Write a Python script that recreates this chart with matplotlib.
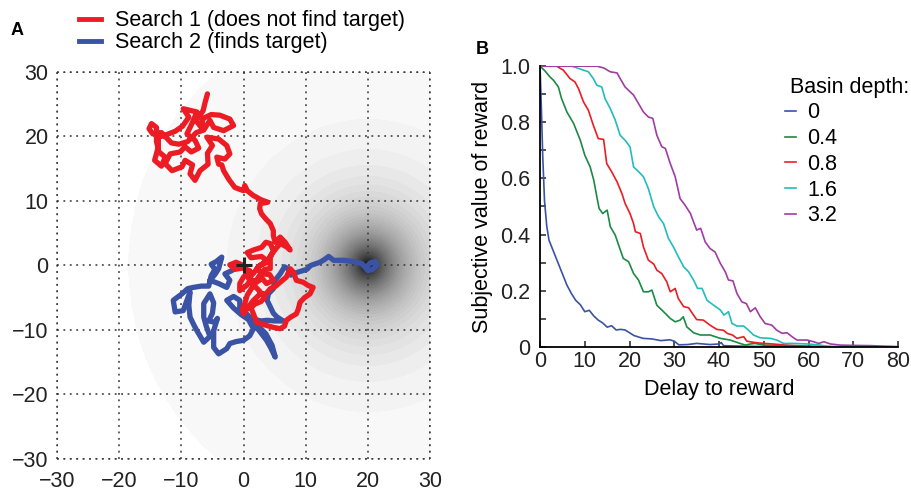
import numpy as np
import matplotlib
matplotlib.use("Agg")
import matplotlib.pyplot as plt
from matplotlib.lines import Line2D

plt.rcParams['font.family'] = ['Liberation Sans', 'DejaVu Sans']
plt.rcParams['font.size'] = 15.5

RED = '#ed1c24'
BLUE = '#3a53a4'

# ---- panel A data: traced search paths (x, y) ----
target = (20, 0)
basin_radius = 38.5

red_path = [
    (0, 0), (-1.2, 0.5), (-2.2, 0.1), (-1.4, -0.6), (-0.2, -0.4), (1, -0.8), (0, -1.8), (-0.6, -2.8),
    (-0.6, -3.9), (0.5, -3.1), (1.2, -2.2), (2.1, -2.6), (3, -2), (3.7, -2.8), (4.8, -2.3), (4.2, -1.4),
    (2.9, -1.3), (2.2, -0.4), (3.7, 0.8), (2.9, 1.4), (2.1, 1.3), (1.2, 1.2), (0.6, 2), (1.6, 2.4),
    (2.9, 2.8), (3.6, 3.6), (4.3, 3.4), (4.8, 2.3), (4.3, 1.2), (4.3, -0.5), (3.4, -0.6), (2.4, -1.8),
    (1.4, -3.4), (0.6, -4.6), (0.2, -5.9), (-0.2, -6.8), (0, -7.5), (0.8, -6.4), (1.6, -5.4), (2.7, -4.4),
    (3.6, -4.4), (4.3, -3.6), (5.2, -3.2), (5.9, -2.6), (6.9, -1.8), (7.5, -0.5), (8, -1.0), (8.5, -2.3),
    (9.6, -2.6), (10.4, -3.1), (11.2, -3.4), (10.7, -4.4), (9.8, -5), (9.1, -5.7), (8.8, -6.8), (8.5, -7.5),
    (7.6, -8), (6.9, -8.5), (6.6, -9.4), (5.9, -9.8), (4.8, -9.6), (3.7, -9.3), (2.1, -8.8), (1.6, -7.5),
    (1.2, -6.6), (1.8, -6), (2.8, -5.6), (3.4, -5), (2.6, -4.0), (1.6, -3.0), (0.8, -2.0), (1.6, -1.2),
    (2.6, 0), (3.6, 0.4), (4.4, 1.6), (5.2, 2.6), (5.9, 3.4), (6.9, 2.9), (7.5, 2.4), (6.7, 3.6),
    (5.9, 4.4), (5.1, 3.6), (4.8, 4.6), (4.8, 5.4), (4.3, 6.5), (3.6, 7.2), (2.9, 8.0), (2.6, 8.8),
    (2.7, 9.6), (3.9, 9.8), (2.8, 10.2), (1.5, 10.9), (0.6, 11.6), (0.2, 12.4), (0, 11.6), (-0.6, 11.8),
    (-1.4, 12.1), (-2.4, 13.4), (-3.2, 14.7), (-3.5, 15.6), (-4, 15.7), (-4.3, 16.8), (-3, 16.5), (-2.2, 17.3),
    (-2.7, 18.6), (-4.0, 19.6), (-5.9, 19.9), (-5.0, 18.6), (-5.8, 17.4), (-5.7, 15.7), (-7, 14.7), (-7.8, 13.2),
    (-8.6, 14.2), (-8.2, 15.6), (-9.4, 16.3), (-9.9, 15.3), (-11.5, 14.7), (-12.6, 15.8), (-11.8, 17.3), (-10.2, 17.6),
    (-9.4, 18.4), (-8.4, 17.6), (-7.2, 18.2), (-7.8, 19.4), (-9.1, 20.4), (-8.3, 22.0), (-7.5, 23.8), (-9.7, 24.3),
    (-8.8, 23.0), (-9.8, 21.6), (-11, 20.8), (-12.6, 20.2), (-13.7, 19.9), (-13.7, 18.4), (-14.3, 16.3), (-13.2, 15.4),
    (-12.6, 16.8), (-13.6, 17.6), (-14, 19.2), (-14, 21.4), (-14.8, 22.0), (-15.2, 21.2), (-14.6, 20.4), (-13.2, 20.6),
    (-11.6, 19.0), (-10.4, 18.8), (-9, 19.2), (-7.6, 20.6), (-6.4, 21), (-5.4, 22.5), (-4.8, 21.4), (-3.2, 20.9),
    (-1.6, 21.7), (-2.2, 22.7), (-3.8, 23.3), (-5.2, 23.4), (-6.5, 22.8), (-6.8, 21.4), (-7.6, 22.4), (-6.5, 24.0),
    (-6.2, 25.2), (-5.8, 26.6),
]

blue_path = [
    (0, 0), (-1.1, -0.3), (-1.9, -0.8), (-3.0, -1.3), (-2.2, -2.3), (-2.7, -3.4), (-4.0, -2.8), (-5.4, -2.3),
    (-4.6, -1.4), (-4.0, -0.5), (-3.5, 1.3), (-4.4, 0.6), (-5.2, 0.2), (-4.6, -0.6), (-5.2, -1.6), (-5.6, -3.2),
    (-6.8, -3.2), (-8.1, -3.4), (-9.0, -3.6), (-9.9, -4.4), (-11.3, -5.4), (-11.0, -7.2), (-9.7, -7.0), (-9.1, -5.4),
    (-8.6, -4.1), (-8.8, -6.2), (-8.6, -8), (-8.0, -9.2), (-7.5, -10.1), (-6.4, -11.9), (-5.4, -11), (-6.0, -9.4),
    (-6.4, -8.0), (-6.4, -5.9), (-5.4, -4.4), (-4.8, -5.8), (-5.0, -7.4), (-5.6, -8.6), (-4.6, -8.8), (-4.2, -8.2),
    (-4.8, -10.1), (-4.8, -12.7), (-4.0, -13.7), (-2.7, -12.9), (-2.2, -12.1), (-1.2, -11.8), (0, -11.6), (1.0, -10.9),
    (1.6, -9.8), (0.8, -8.4), (-0.4, -7.6), (-1.6, -6.6), (-2.7, -5.4), (-1.6, -4.8), (-0.6, -5.4), (-0.6, -6.5),
    (0.4, -7.4), (1.0, -8), (1.6, -8.0), (2.1, -9.6), (2.6, -10.2), (3.7, -11.6), (4.4, -12.8), (5.1, -14.2),
    (4.6, -12.4), (3.6, -10.6), (2.6, -9.6), (2.0, -8.4), (2.8, -8.6), (3.8, -8.5), (5.0, -8.6), (6.4, -8.6),
    (5.4, -8.0), (4.8, -7.4), (4.2, -6.2), (3.8, -5.4), (4.0, -4.4), (4.8, -3.6), (5.0, -2.4), (5.9, -1.3),
    (6.6, -0.2), (7.3, -0.6), (7.6, -1.5), (8.2, -1.2), (9.2, -0.9), (10.2, -0.6), (10.8, 0), (12.3, 0.5),
    (13, 0.9), (13.7, 1.4), (14.5, 0.8), (16.1, 0.8), (17.7, 0.6), (19.0, 0.3), (19.6, -0.3), (20.0, -0.8),
    (20.8, -0.6), (21.5, 0.1), (21.2, 0.6), (20.4, 0.4), (20, 0),
]

# ---- panel B data: subjective value vs delay ----
depth_labels = ['0', '0.4', '0.8', '1.6', '3.2']
depth_colors = ['#3a53a4', '#1b8a45', '#ed1c24', '#22bcbc', '#a03ca3']

d0 = [0, 0.3, 0.6, 1, 1.5, 2, 3, 4, 5, 6, 7, 8, 9, 10, 11, 12, 13, 14, 15, 16, 17, 18, 19, 20, 21, 22,
      23, 25, 27, 29, 30, 31, 33, 35, 38, 40, 40.5, 41, 43, 46, 50, 60, 70, 80]
v0 = [1.0, 0.85, 0.68, 0.52, 0.43, 0.38, 0.34, 0.30, 0.26, 0.22, 0.19, 0.165, 0.15, 0.125, 0.13, 0.11, 0.095,
      0.085, 0.07, 0.075, 0.06, 0.062, 0.06, 0.05, 0.04, 0.035, 0.03, 0.028, 0.022, 0.025, 0.02, 0.007, 0.008,
      0.012, 0.008, 0.01, 0.015, 0.004, 0.003, 0.002, 0.001, 0, 0, 0]

d1 = [0, 1, 2.2, 3, 4.1, 4.8, 6, 7.5, 9, 10, 11.2, 12, 12.7, 13.2, 14, 15, 15.7, 16.8, 17.7, 18.6, 19.8,
      20.9, 22, 23.1, 24.2, 25, 26.1, 27.6, 29.1, 30.2, 31.3, 32, 32.8, 34.3, 35.8, 38, 40.3, 42.5, 44.7,
      45.9, 47, 48, 50, 55, 60, 65, 80]
v1 = [1.0, 0.985, 0.962, 0.95, 0.926, 0.885, 0.837, 0.796, 0.736, 0.683, 0.641, 0.594, 0.534, 0.493, 0.475,
      0.487, 0.428, 0.398, 0.356, 0.315, 0.303, 0.261, 0.238, 0.196, 0.196, 0.202, 0.148, 0.125, 0.101, 0.089,
      0.095, 0.107, 0.071, 0.05, 0.042, 0.042, 0.03, 0.024, 0.012, 0.006, 0.01, 0.012, 0.006, 0.004, 0.001, 0, 0]

d2 = [0, 3.7, 5.2, 6.7, 7.8, 8.6, 9.7, 10.8, 11.9, 13, 14.2, 14.9, 16, 17.2, 18.3, 19, 20.1, 20.9, 21.3,
      22.4, 23.1, 24.2, 25.4, 26.1, 27.2, 28.3, 29.1, 30.2, 30.9, 32.1, 33.2, 34.3, 35, 36.5, 38, 39.5, 41,
      41.8, 43, 44, 45.5, 46.2, 48, 50, 52, 55, 60, 65, 80]
v2 = [1, 1, 0.986, 0.956, 0.944, 0.92, 0.873, 0.843, 0.79, 0.742, 0.739, 0.653, 0.624, 0.588, 0.546, 0.511,
      0.475, 0.439, 0.41, 0.404, 0.356, 0.309, 0.295, 0.273, 0.261, 0.232, 0.196, 0.208, 0.172, 0.143, 0.139,
      0.113, 0.097, 0.095, 0.077, 0.062, 0.059, 0.048, 0.042, 0.03, 0.036, 0.02, 0.015, 0.012, 0.01, 0.006,
      0.002, 0, 0]

d3 = [0, 7.1, 9.7, 10.8, 11.9, 12.7, 13.8, 14.5, 15.7, 16.8, 17.9, 19, 20.1, 20.9, 22.4, 23.1, 24.2, 25.4,
      26.5, 27.6, 28.7, 29.8, 30.9, 32.1, 33.2, 34.3, 35.2, 36.2, 37.3, 38.8, 40.3, 41.1, 42.1, 42.9, 44, 45.5,
      46.6, 47.7, 49.2, 51.5, 52.9, 54.4, 56.7, 59.7, 62.6, 64.1, 66, 80]
v3 = [1, 1, 0.986, 0.98, 0.956, 0.932, 0.926, 0.885, 0.849, 0.808, 0.754, 0.736, 0.713, 0.641, 0.618, 0.606,
      0.564, 0.499, 0.463, 0.439, 0.386, 0.356, 0.321, 0.285, 0.267, 0.238, 0.208, 0.208, 0.166, 0.148, 0.131,
      0.113, 0.125, 0.083, 0.074, 0.074, 0.059, 0.042, 0.032, 0.03, 0.024, 0.012, 0.012, 0.01, 0.006, 0.002, 0, 0]

d4 = [0, 12.7, 14.2, 15.7, 17.2, 17.9, 19, 20.9, 22, 23.1, 24.2, 25.2, 26.1, 27.2, 28, 29.1, 30.2, 31.3,
      32.4, 33.6, 34.3, 35, 35.9, 36.9, 38, 39.1, 40.3, 41.4, 42.1, 43.1, 44, 45.1, 46.1, 47, 48.1, 49.2, 50.3,
      51.8, 52.9, 54.1, 55.2, 56.3, 57.4, 59.7, 61.1, 62.3, 63.4, 64.9, 67.1, 70, 74, 77, 80]
v4 = [1, 1, 0.994, 0.98, 0.976, 0.956, 0.926, 0.897, 0.867, 0.837, 0.819, 0.814, 0.754, 0.713, 0.707, 0.653,
      0.606, 0.528, 0.505, 0.475, 0.445, 0.416, 0.422, 0.374, 0.35, 0.338, 0.297, 0.267, 0.238, 0.235, 0.19,
      0.16, 0.154, 0.125, 0.139, 0.107, 0.083, 0.077, 0.059, 0.048, 0.05, 0.036, 0.024, 0.024, 0.018, 0.012,
      0.018, 0.01, 0.006, 0.005, 0.004, 0.002, 0]

delays = [d0, d1, d2, d3, d4]
values = [v0, v1, v2, v3, v4]

fig = plt.figure(figsize=(9.11, 4.94), dpi=100)

# ---------------- panel A ----------------
axA = fig.add_axes([0.0626, 0.0709, 0.4094, 0.7834])
gx = np.linspace(-30, 30, 500)
X, Y = np.meshgrid(gx, gx)
R = np.hypot(X - target[0], Y - target[1])
Z = 0.975 - 0.95 * np.exp(-R / 5.5)
Z = np.ma.masked_where(R > basin_radius, Z)
axA.contourf(X, Y, Z, levels=np.linspace(0.0, 1.0, 51), cmap='gray', vmin=0, vmax=1, zorder=0)

rx, ry = zip(*red_path)
bx, by = zip(*blue_path)
axA.plot(bx, by, color=BLUE, lw=3.8, solid_capstyle='round', solid_joinstyle='round', zorder=3)
axA.plot(rx, ry, color=RED, lw=3.8, solid_capstyle='round', solid_joinstyle='round', zorder=4)
axA.plot([0], [0], marker='+', color='#222222', ms=12, mew=2.2, zorder=5)

axA.set_xlim(-30, 30)
axA.set_ylim(-30, 30)
axA.set_xticks(range(-30, 31, 10))
axA.set_yticks(range(-30, 31, 10))
dots = (0, (1.2, 3))
axA.grid(True, color='#333333', linestyle=dots, linewidth=1.1)
for s in axA.spines.values():
    s.set_visible(False)
for v in (-30, 30):
    axA.axhline(v, color='#333333', linestyle=dots, linewidth=1.1, clip_on=False)
    axA.axvline(v, color='#333333', linestyle=dots, linewidth=1.1, clip_on=False)
axA.tick_params(length=0, labelsize=15.5, colors='#222222')
axA.tick_params(axis='x', pad=9)
axA.tick_params(axis='y', pad=6)

handles = [Line2D([], [], color=RED, lw=3.5), Line2D([], [], color=BLUE, lw=3.5)]
fig.legend(handles, ['Search 1 (does not find target)', 'Search 2 (finds target)'],
           loc='upper left', bbox_to_anchor=(0.065, 1.018), frameon=False, fontsize=15.5,
           handlelength=1.05, handletextpad=0.65, labelspacing=0.04)

fig.text(0.012, 0.93, 'A', fontsize=13, fontweight='bold')
fig.text(0.522, 0.89, 'B', fontsize=13, fontweight='bold')

# ---------------- panel B ----------------
axB = fig.add_axes([0.5928, 0.298, 0.393, 0.568])
for d, v, c, lab in zip(delays, values, depth_colors, depth_labels):
    axB.plot(d, v, color=c, lw=1.2, label=lab)
axB.set_xlim(0, 80)
axB.set_ylim(0, 1)
axB.set_xticks(range(0, 81, 10))
axB.set_yticks([0, 0.2, 0.4, 0.6, 0.8, 1.0])
axB.set_yticklabels(['0', '0.2', '0.4', '0.6', '0.8', '1.0'])
axB.set_yticks(np.arange(0.1, 1.0, 0.2), minor=True)
axB.spines['top'].set_visible(False)
axB.spines['right'].set_visible(False)
axB.spines['left'].set_linewidth(1.3)
axB.spines['bottom'].set_linewidth(1.3)
axB.tick_params(which='both', direction='in', length=4, width=1.1, labelsize=15.5, colors='#222222')
axB.tick_params(axis='y', pad=7)
axB.tick_params(axis='x', pad=3)
axB.set_xlabel('Delay to reward', fontsize=15.5, labelpad=5)
axB.set_ylabel('Subjective value of reward', fontsize=15.5, labelpad=5)

fig.text(790 / 911, 1 - 88 / 494, 'Basin depth:', fontsize=15.5, va='center', ha='left')
axB.legend(loc='upper left', bbox_to_anchor=(0.659, 0.902), frameon=False, fontsize=15.5,
           handlelength=0.55, handletextpad=0.5, labelspacing=0.22, borderaxespad=0)

fig.savefig('out.png', dpi=100)
